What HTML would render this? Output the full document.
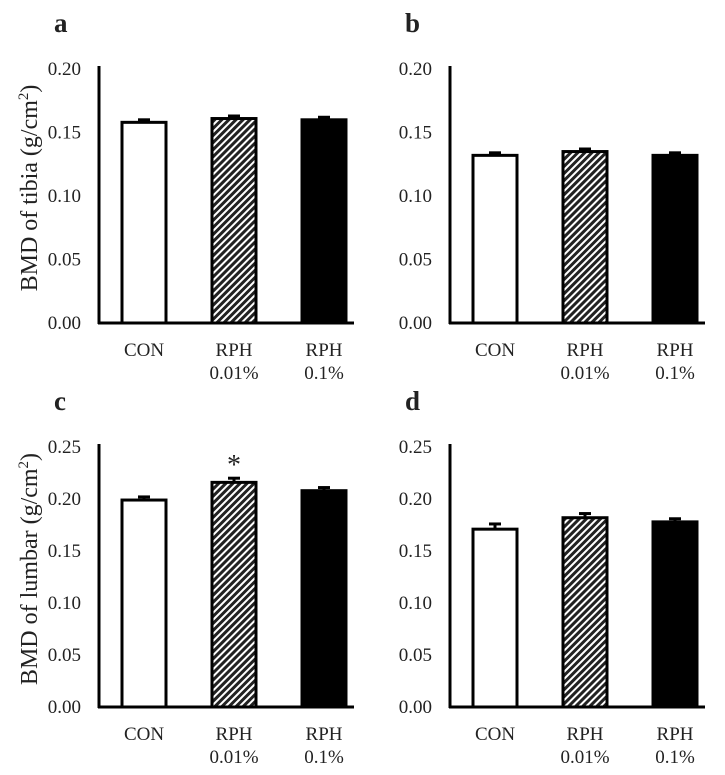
<!DOCTYPE html>
<html><head><meta charset="utf-8"><style>
body{margin:0;background:#fff}
svg text{font-family:"Liberation Serif",serif;fill:#222}
</style></head><body>
<svg id="chart" width="725" height="770" viewBox="0 0 725 770">
<defs><pattern id="hatch" patternUnits="userSpaceOnUse" width="5" height="5" patternTransform="rotate(45)">
<rect width="5" height="5" fill="#fff"/><rect width="3" height="5" fill="#222"/></pattern></defs>
</svg>
<script>
const categories=["CON","RPH 0.01%","RPH 0.1%"];
const tibiaA=[0.158,0.161,0.160];
const tibiaAErr=[0.002,0.002,0.002];
const tibiaB=[0.132,0.135,0.132];
const tibiaBErr=[0.002,0.002,0.002];
const lumbarC=[0.199,0.216,0.208];
const lumbarCErr=[0.003,0.004,0.003];
const lumbarD=[0.171,0.182,0.178];
const lumbarDErr=[0.005,0.004,0.003];
const ticksTop=["0.00","0.05","0.10","0.15","0.20"];
const ticksBottom=["0.00","0.05","0.10","0.15","0.20","0.25"];
const svg=document.getElementById('chart');
const NS="http://www.w3.org/2000/svg";
function mk(tag,attrs,parent){const e=document.createElementNS(NS,tag);for(const k in attrs)e.setAttribute(k,attrs[k]);(parent||svg).appendChild(e);return e;}
function panel(letter,ax,base,top,ticks,vals,errs,title){
  const g=mk('g',{});
  
  
  const maxV=parseFloat(ticks[ticks.length-1]);
  const y=v=>base-(v/maxV)*(base-top);
  const t=mk('text',{x:ax-45,y:top-37,'font-size':27,'font-weight':'bold'},g);t.textContent=letter;
  
  
  ticks.forEach(s=>{const tt=mk('text',{x:ax-18,y:y(parseFloat(s))+6,'font-size':19,'text-anchor':'end'},g);tt.textContent=s;
    
    });
  const fills=['#fff','url(#hatch)','#000'];
  vals.forEach((v,i)=>{
    const cx=ax+45+i*90;
    const r=mk('rect',{x:cx-22,y:y(v),width:44,height:base-y(v),fill:fills[i],stroke:'#000','stroke-width':3},g);
    
    
    const e=mk('line',{x1:cx,x2:cx,y1:y(v),y2:y(v+errs[i]),stroke:'#000','stroke-width':3},g);
    
    
    mk('line',{x1:cx-6,x2:cx+6,y1:y(v+errs[i]),y2:y(v+errs[i]),stroke:'#000','stroke-width':3},g);
    const parts=categories[i].split(' ');
    parts.forEach((p,j)=>{const l=mk('text',{x:cx,y:base+33+j*23,'font-size':19,'text-anchor':'middle'},g);l.textContent=p;
      
      });
  });
  const ya=mk('line',{x1:ax,x2:ax,y1:top-3,y2:base+1,stroke:'#000','stroke-width':3},g);
  
  
  const xa=mk('line',{x1:ax-1,x2:ax+255,y1:base,y2:base,stroke:'#000','stroke-width':3},g);
  
  
  if(title){const yt=mk('text',{x:0,y:0,'font-size':24,'text-anchor':'middle',transform:`translate(37,${(base+top)/2-8}) rotate(-90)`},g);
    yt.innerHTML=title+' (g/cm<tspan dy="-9" font-size="15">2</tspan><tspan dy="9">)</tspan>';
    
    }
  return y;
}
panel('a',99,323,69,ticksTop,tibiaA,tibiaAErr,'BMD of tibia');
panel('b',450,323,69,ticksTop,tibiaB,tibiaBErr,null);
const yc=panel('c',99,707,447,ticksBottom,lumbarC,lumbarCErr,'BMD of lumbar');
panel('d',450,707,447,ticksBottom,lumbarD,lumbarDErr,null);
const star=mk('text',{x:99+45+90,y:yc(lumbarC[1]+lumbarCErr[1])-4,'font-size':28,'text-anchor':'middle'});
star.textContent='*';


</script>
</body></html>
